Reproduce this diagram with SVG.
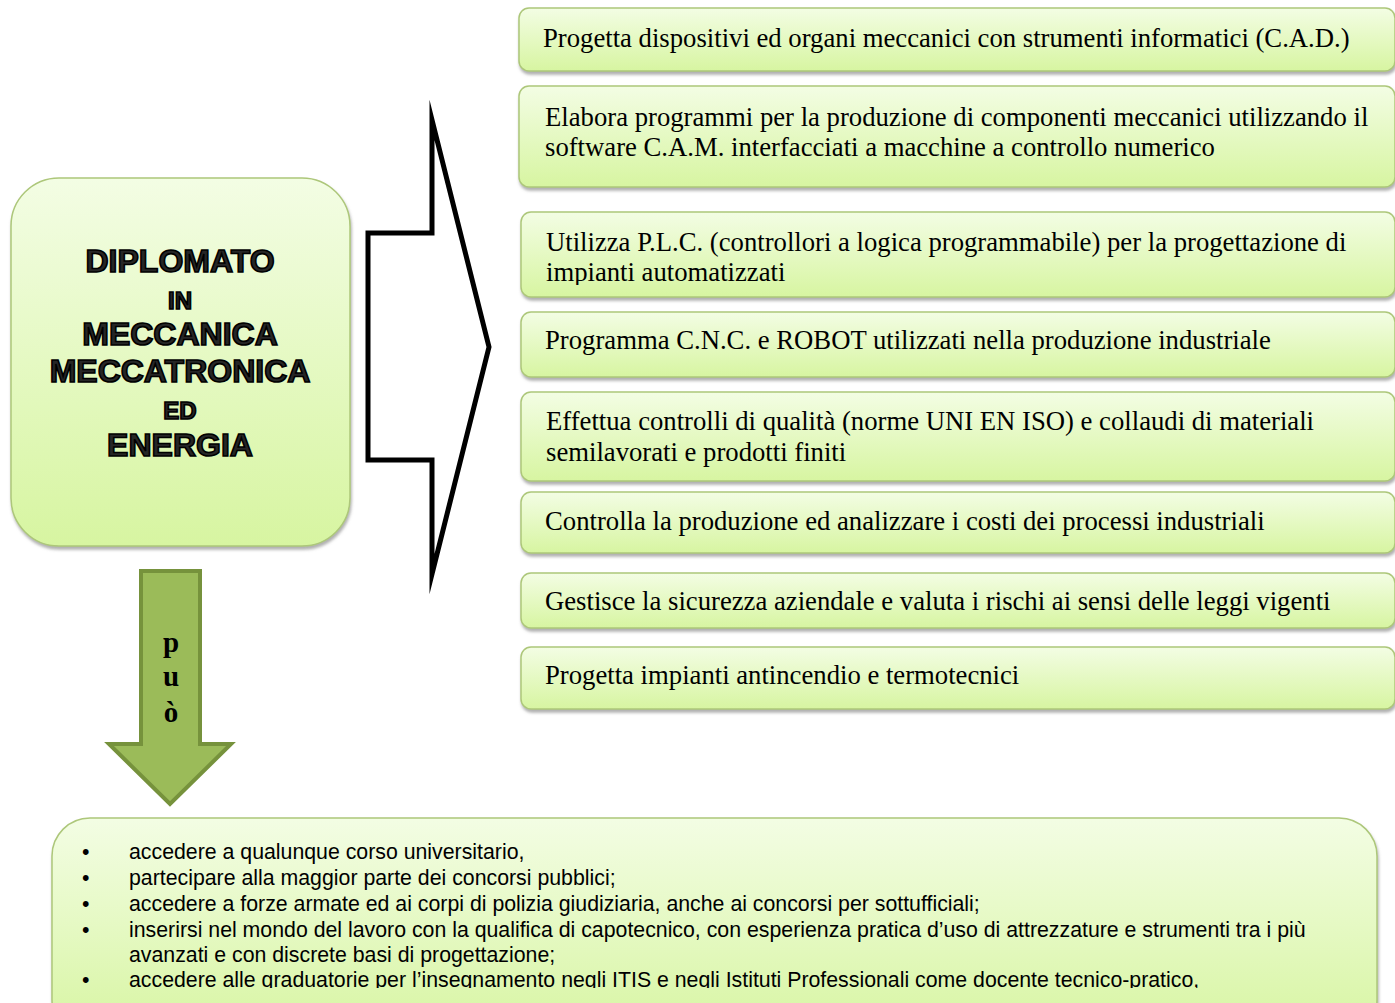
<svg xmlns="http://www.w3.org/2000/svg" width="1395" height="1003" viewBox="0 0 1395 1003">
<defs>
<linearGradient id="g" x1="0" y1="0" x2="0" y2="1">
<stop offset="0" stop-color="#f3fde4"/>
<stop offset="1" stop-color="#d7f5a1"/>
</linearGradient>
<filter id="sh" x="-5%" y="-10%" width="110%" height="130%">
<feDropShadow dx="1" dy="3" stdDeviation="1.8" flood-color="#7a7a7a" flood-opacity="0.6"/>
</filter>
<clipPath id="c3"><rect x="0" y="0" width="1395" height="285"/></clipPath>
<clipPath id="cb"><rect x="0" y="0" width="1395" height="988"/></clipPath>
<style>
.box{fill:url(#g);stroke:#adc77a;stroke-width:1.5;filter:url(#sh)}
.t{font-family:"Liberation Serif","Times New Roman",serif;font-size:26.7px;fill:#000}
.h{font-family:"Liberation Sans",Arial,sans-serif;font-weight:bold;fill:#262626;stroke:#000;stroke-width:1.6;text-anchor:middle}
.b{font-family:"Liberation Sans",Arial,sans-serif;font-size:21.3px;fill:#000}
.p{font-family:"Liberation Serif","Times New Roman",serif;font-weight:bold;font-size:29px;fill:#000;text-anchor:middle}
</style>
</defs>

<g id="main">
<rect class="box" x="11" y="178" width="339" height="368" rx="48"/>
<text class="h" x="180" y="272" font-size="32">DIPLOMATO</text>
<text class="h" x="180" y="309" font-size="24">IN</text>
<text class="h" x="180" y="345" font-size="32">MECCANICA</text>
<text class="h" x="180" y="382" font-size="32">MECCATRONICA</text>
<text class="h" x="180" y="419" font-size="24">ED</text>
<text class="h" x="180" y="456" font-size="32">ENERGIA</text>
</g>

<g id="connectors">
<polygon points="368,233 432,233 432,120 489,347 432,574 432,460 368,460" fill="#fff" stroke="#000" stroke-width="5" stroke-linejoin="miter" stroke-miterlimit="20"/>
<g id="puo">
<polygon points="141,571 200,571 200,744 231,744 170,804 109,744 141,744" fill="#9bbb59" stroke="#76923c" stroke-width="4"/>
<text class="p" x="171" y="652">p</text>
<text class="p" x="171" y="686">u</text>
<text class="p" x="171" y="722">ò</text>
</g>
</g>

<g id="n1"><rect class="box" x="519" y="8" width="876" height="63" rx="10"/>
<text class="t" x="543" y="47">Progetta dispositivi ed organi meccanici con strumenti informatici (C.A.D.)</text></g>
<g id="n2"><rect class="box" x="519" y="86" width="876" height="101" rx="10"/>
<text class="t" x="545" y="126">Elabora programmi per la produzione di componenti meccanici utilizzando il</text>
<text class="t" x="545" y="156">software C.A.M. interfacciati a macchine a controllo numerico</text></g>
<g id="n3"><rect class="box" x="521" y="212" width="874" height="85" rx="10"/>
<g clip-path="url(#c3)">
<text class="t" x="546" y="251">Utilizza P.L.C. (controllori a logica programmabile) per la progettazione di</text>
<text class="t" x="546" y="281">impianti automatizzati</text></g></g>
<g id="n4"><rect class="box" x="521" y="312" width="874" height="65" rx="10"/>
<text class="t" x="545" y="349">Programma C.N.C. e ROBOT utilizzati nella produzione industriale</text></g>
<g id="n5"><rect class="box" x="521" y="392" width="874" height="89" rx="10"/>
<text class="t" x="546" y="430">Effettua controlli di qualità (norme UNI EN ISO) e collaudi di materiali</text>
<text class="t" x="546" y="461">semilavorati e prodotti finiti</text></g>
<g id="n6"><rect class="box" x="521" y="492" width="874" height="61" rx="10"/>
<text class="t" x="545" y="530">Controlla la produzione ed analizzare i costi dei processi industriali</text></g>
<g id="n7"><rect class="box" x="521" y="573" width="874" height="55" rx="10"/>
<text class="t" x="545" y="610">Gestisce la sicurezza aziendale e valuta i rischi ai sensi delle leggi vigenti</text></g>
<g id="n8"><rect class="box" x="521" y="647" width="874" height="62" rx="10"/>
<text class="t" x="545" y="684">Progetta impianti antincendio e termotecnici</text></g>

<g id="bottom">
<rect class="box" x="52" y="818" width="1325" height="220" rx="38"/>
<g clip-path="url(#cb)">
<text class="b" x="82" y="859">•</text>
<text class="b" x="129" y="859">accedere a qualunque corso universitario,</text>
<text class="b" x="82" y="885">•</text>
<text class="b" x="129" y="885">partecipare alla maggior parte dei concorsi pubblici;</text>
<text class="b" x="82" y="911">•</text>
<text class="b" x="129" y="911">accedere a forze armate ed ai corpi di polizia giudiziaria, anche ai concorsi per sottufficiali;</text>
<text class="b" x="82" y="937">•</text>
<text class="b" x="129" y="937">inserirsi nel mondo del lavoro con la qualifica di capotecnico, con esperienza pratica d’uso di attrezzature e strumenti tra i più</text>
<text class="b" x="129" y="962">avanzati e con discrete basi di progettazione;</text>
<text class="b" x="82" y="987">•</text>
<text class="b" x="129" y="987">accedere alle graduatorie per l’insegnamento negli ITIS e negli Istituti Professionali come docente tecnico-pratico,</text>
</g>
</g>
</svg>
